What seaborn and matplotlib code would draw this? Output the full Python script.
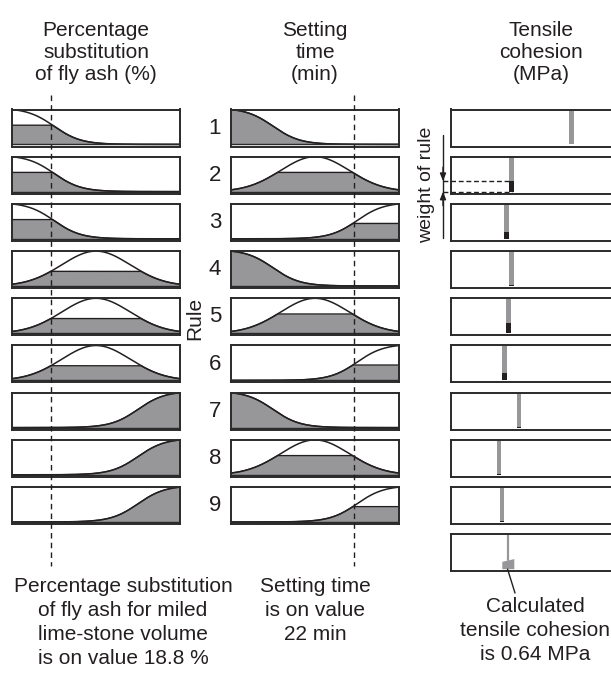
import numpy as np
import matplotlib
matplotlib.use("Agg")
import matplotlib.pyplot as plt
import seaborn as sns
import pandas as pd
from matplotlib import transforms
from matplotlib.lines import Line2D

# ---------------- data ----------------
rules = [1, 2, 3, 4, 5, 6, 7, 8, 9]
fly_ash_value = 18.8            # %
fly_ash_range = (0, 80)
setting_time_value = 22         # min
setting_time_range = (0, 30)
tensile_range = (0, 1.9)        # MPa
fly_ash_mf = ["Z", "Z", "Z", "bell", "bell", "bell", "S", "S", "S"]
setting_mf = ["Z", "bell", "S", "Z", "bell", "S", "Z", "bell", "S"]
fly_ash_level = [0.55, 0.55, 0.55, 0.42, 0.42, 0.42, 1.0, 1.0, 1.0]
setting_level = [1.0, 0.55, 0.44, 1.0, 0.55, 0.44, 1.0, 0.55, 0.44]
rule_output = [1.365, 0.686, 0.63, 0.686, 0.645, 0.60, 0.769, 0.543, 0.577]
rule_weight = [0.0, 0.30, 0.20, 0.03, 0.30, 0.22, 0.03, 0.02, 0.02]
result_value = 0.64
agg_x = [0.58, 0.58, 0.716, 0.716]
agg_y = [0.0, 0.21, 0.29, 0.0]

# membership-function shape parameters (normalised domain 0..1)
z_center, z_slope = 0.25, 0.08
bell_center, bell_sigma = 0.5, 0.204

# ---------------- style ----------------
sns.set_style("white")
plt.rcParams["font.family"] = ["Liberation Sans", "DejaVu Sans"]
TXT = "#231f20"
GRAY = "#97979a"
EDGE = "#2a2a2a"
DARK = "#231f20"

W, H = 611, 682
fig = plt.figure(figsize=(W / 100, H / 100), dpi=100)


def px_axes(x0, y0, w, h):
    return fig.add_axes([x0 / W, 1 - (y0 + h) / H, w / W, h / H])


def mf_values(kind, u):
    z0 = 1 / (1 + np.exp((0 - z_center) / z_slope))
    if kind == "Z":
        return (1 / (1 + np.exp((u - z_center) / z_slope))) / z0
    if kind == "S":
        return (1 / (1 + np.exp(((1 - u) - z_center) / z_slope))) / z0
    return np.exp(-(u - bell_center) ** 2 / (2 * bell_sigma ** 2))


def style_panel(ax, xlim):
    ax.set_xlim(*xlim)
    ax.set_ylim(-0.06, 1.0)
    ax.set_xticks([])
    ax.set_yticks([])
    ax.set_xlabel("")
    ax.set_ylabel("")
    for s in ax.spines.values():
        s.set_visible(True)
        s.set_linewidth(1.4)
        s.set_color(EDGE)


col_x = [12, 231, 451]
panel_w, panel_h = 168, 37
row_top0, row_step = 109.5, 47.2

u = np.linspace(0, 1, 400)
input_axes = {0: [], 1: []}
inputs = [(fly_ash_mf, fly_ash_level, fly_ash_range, fly_ash_value),
          (setting_mf, setting_level, setting_time_range, setting_time_value)]

for ci, (kinds, levels, rng, val) in enumerate(inputs):
    for i, r in enumerate(rules):
        ax = px_axes(col_x[ci], row_top0 + row_step * i, panel_w, panel_h)
        x = rng[0] + u * (rng[1] - rng[0])
        y = mf_values(kinds[i], u)
        clipped = np.minimum(y, levels[i])
        ax.fill_between(x, 0, clipped, color=GRAY, lw=0)
        ax.plot(x, clipped, color=DARK, lw=1.0)
        df = pd.DataFrame({"x": x, "y": y})
        sns.lineplot(data=df, x="x", y="y", ax=ax, color=DARK, lw=1.1,
                     sort=False, estimator=None)
        ax.axhline(0, color=EDGE, lw=1.0)
        style_panel(ax, rng)
        input_axes[ci].append(ax)
    # dashed marker of the input value
    ax0 = input_axes[ci][0]
    tr = transforms.blended_transform_factory(ax0.transData, fig.transFigure)
    fig.add_artist(Line2D([val, val], [1 - 95 / H, 1 - 566 / H], transform=tr,
                          color=DARK, lw=1.0, ls=(0, (4, 3))))

# output panels
out_axes = []
bar_w = 0.056
for i in range(10):
    ax = px_axes(col_x[2], row_top0 + row_step * i, panel_w, panel_h)
    if i < 9:
        ax.bar([rule_output[i]], [1.0], width=bar_w, color=GRAY, lw=0)
        if rule_weight[i] > 0:
            ax.bar([rule_output[i]], [rule_weight[i]], width=bar_w, color=DARK, lw=0)
    else:
        ax.plot([result_value, result_value], [0.25, 1.0], color=GRAY, lw=1.6)
        ax.fill(agg_x, agg_y, color=GRAY, lw=0)
    style_panel(ax, tensile_range)
    out_axes.append(ax)

# weight of rule annotation (rule 2)
ax2 = out_axes[1]
w2 = rule_weight[1]
xa = -8 / panel_w
ax2.plot([-0.09, rule_output[1]], [w2, w2], color=DARK, lw=1.0, ls=(0, (3.5, 2)), clip_on=False)
ax2.plot([-0.09, rule_output[1]], [0, 0], color=DARK, lw=1.0, ls=(0, (3.5, 2)), clip_on=False)
btr = transforms.blended_transform_factory(ax2.transAxes, ax2.transData)
ax2.plot([xa, xa], [1.62, -1.33], transform=btr, color=DARK, lw=1.0, clip_on=False)
ax2.annotate("", xy=(xa, w2), xytext=(xa, w2 + 0.4), xycoords=btr, textcoords=btr,
             arrowprops=dict(arrowstyle="-|>,head_length=0.45,head_width=0.18",
                             color=DARK, lw=1.0, shrinkA=0, shrinkB=0))
ax2.annotate("", xy=(xa, 0), xytext=(xa, -0.4), xycoords=btr, textcoords=btr,
             arrowprops=dict(arrowstyle="-|>,head_length=0.45,head_width=0.18",
                             color=DARK, lw=1.0, shrinkA=0, shrinkB=0))

# pointer to the result
ax10 = out_axes[9]
ax10.annotate("", xy=(result_value, 0), xytext=(515, H - 593), textcoords="figure pixels",
              arrowprops=dict(arrowstyle="-", color=DARK, lw=1.0, shrinkA=0, shrinkB=0))

# ---------------- texts ----------------
def put_lines(cx, ys, lines, size=15):
    for yy, t in zip(ys, lines):
        fig.text(cx / W, 1 - yy / H, t, ha="center", va="center",
                 fontsize=size, color=TXT)


put_lines(96, [30, 52, 74], ["Percentage", "substitution", "of fly ash (%)"])
put_lines(315, [30, 52, 74], ["Setting", "time", "(min)"])
put_lines(541, [30, 52, 74], ["Tensile", "cohesion", "(MPa)"])

put_lines(123, [587, 611, 635, 658], ["Percentage substitution", "of fly ash for miled",
                                      "lime-stone volume", "is on value 18.8 %"])
put_lines(315, [587, 611, 635], ["Setting time", "is on value", "22 min"])
put_lines(535, [606, 630, 654], ["Calculated", "tensile cohesion", "is 0.64 MPa"])

for i, r in enumerate(rules):
    yc = row_top0 + row_step * i + panel_h / 2
    fig.text(215 / W, 1 - yc / H, str(r), ha="center", va="center", fontsize=16, color=TXT)

fig.text(195 / W, 1 - 318 / H, "Rule", ha="center", va="center", rotation=90,
         fontsize=15, color=TXT)
fig.text(427 / W, 1 - 185 / H, "weight of rule", ha="center", va="center", rotation=90,
         fontsize=14, color=TXT)

fig.savefig("out.png", dpi=100)
